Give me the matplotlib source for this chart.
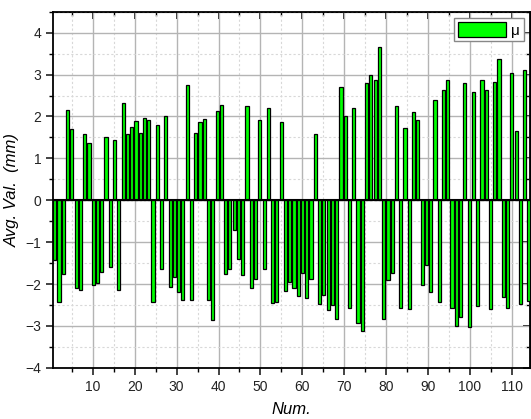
import numpy as np
import matplotlib.pyplot as plt
from matplotlib.ticker import MultipleLocator

plt.rcParams['font.family'] = ['Liberation Sans', 'DejaVu Sans']

# bar heights, one per sample
avg_val = [-1.43, -2.42, -1.75, 2.16, 1.71, -2.09, -2.13, 1.59, 1.37, -2.03,
           -1.97, -1.71, 1.52, -1.60, 1.43, -2.13, 2.32, 1.59, 1.76, 1.89,
           1.61, 1.96, 1.92, -2.42, 1.80, -1.64, 2.01, -2.06, -1.84, -2.20,
           -2.37, 2.74, -2.37, 1.60, 1.87, 1.93, -2.38, -2.86, 2.12, 2.28,
           -1.75, -1.63, -0.71, -1.41, -1.79, 2.25, -2.09, -1.89, 1.92, -1.63,
           2.20, -2.44, -2.42, 1.88, -2.16, -1.96, -2.09, -2.29, -1.73, -2.34,
           -1.89, 1.59, -2.48, -2.26, -2.62, -2.50, -2.84, 2.70, 2.01, -2.56,
           2.21, -2.92, -3.11, 2.80, 2.99, 2.88, 3.67, -2.84, -1.90, -1.73,
           2.25, -2.56, 1.73, -2.60, 2.10, 1.92, -2.02, -1.55, -2.18, 2.40,
           -2.42, 2.63, 2.88, -2.56, -3.00, -2.78, 2.79, -3.02, 2.58, -2.52,
           2.86, 2.63, -2.60, 2.82, 3.36, -2.30, -2.56, 3.04, 1.65, -2.48,
           3.10, -2.40]
# sample positions on the Num. axis (spacing is a touch over 1)
num = 0.9 + 1.02 * np.arange(len(avg_val))

fig = plt.figure(figsize=(5.31, 4.19), dpi=100)
ax = fig.add_axes([0.100, 0.122, 0.8975, 0.850])

ax.bar(num, avg_val, width=0.75, color='#00ff00', edgecolor='black',
       linewidth=0.9, label='μ', zorder=3)
ax.axhline(0, color='black', lw=1.5, zorder=4)

ax.set_xlim(0.5, 114.3)
ax.set_ylim(-4, 4.5)
ax.xaxis.set_major_locator(MultipleLocator(10))
ax.xaxis.set_minor_locator(MultipleLocator(5))
ax.yaxis.set_major_locator(MultipleLocator(1))
ax.yaxis.set_minor_locator(MultipleLocator(0.5))
ax.set_xticks(range(10, 111, 10))

ax.grid(which='major', color='#b4b4b4', lw=1.0, zorder=0)
ax.grid(which='minor', color='#d8d8d8', lw=0.8, ls=(0, (2, 2)), zorder=0)

ax.tick_params(which='major', direction='out', length=5, width=1.2,
               labelsize=10, colors='#222222')
ax.tick_params(which='minor', direction='out', length=3, width=1)
for s in ax.spines.values():
    s.set_linewidth(1.3)

# mirrored ticks on top and right, pointing inward
top = ax.secondary_xaxis('top')
top.xaxis.set_major_locator(MultipleLocator(10))
top.xaxis.set_minor_locator(MultipleLocator(5))
top.tick_params(which='major', direction='in', length=5, width=1.2, labeltop=False)
top.tick_params(which='minor', direction='in', length=3, width=1)
right = ax.secondary_yaxis('right')
right.yaxis.set_major_locator(MultipleLocator(1))
right.yaxis.set_minor_locator(MultipleLocator(0.5))
right.tick_params(which='major', direction='in', length=5, width=1.2, labelright=False)
right.tick_params(which='minor', direction='in', length=3, width=1)

ax.set_xlabel('Num.', fontsize=12, style='italic', labelpad=6)
ax.set_ylabel('Avg. Val.  (mm)', fontsize=12, style='italic', labelpad=4)

leg = ax.legend(loc='upper right', fontsize=11, handlelength=3.2,
                handleheight=1.2, borderpad=0.25, handletextpad=0.3,
                fancybox=False, framealpha=1, borderaxespad=0.4)
leg.get_frame().set_edgecolor('#888888')

fig.savefig('out.png', dpi=100)
